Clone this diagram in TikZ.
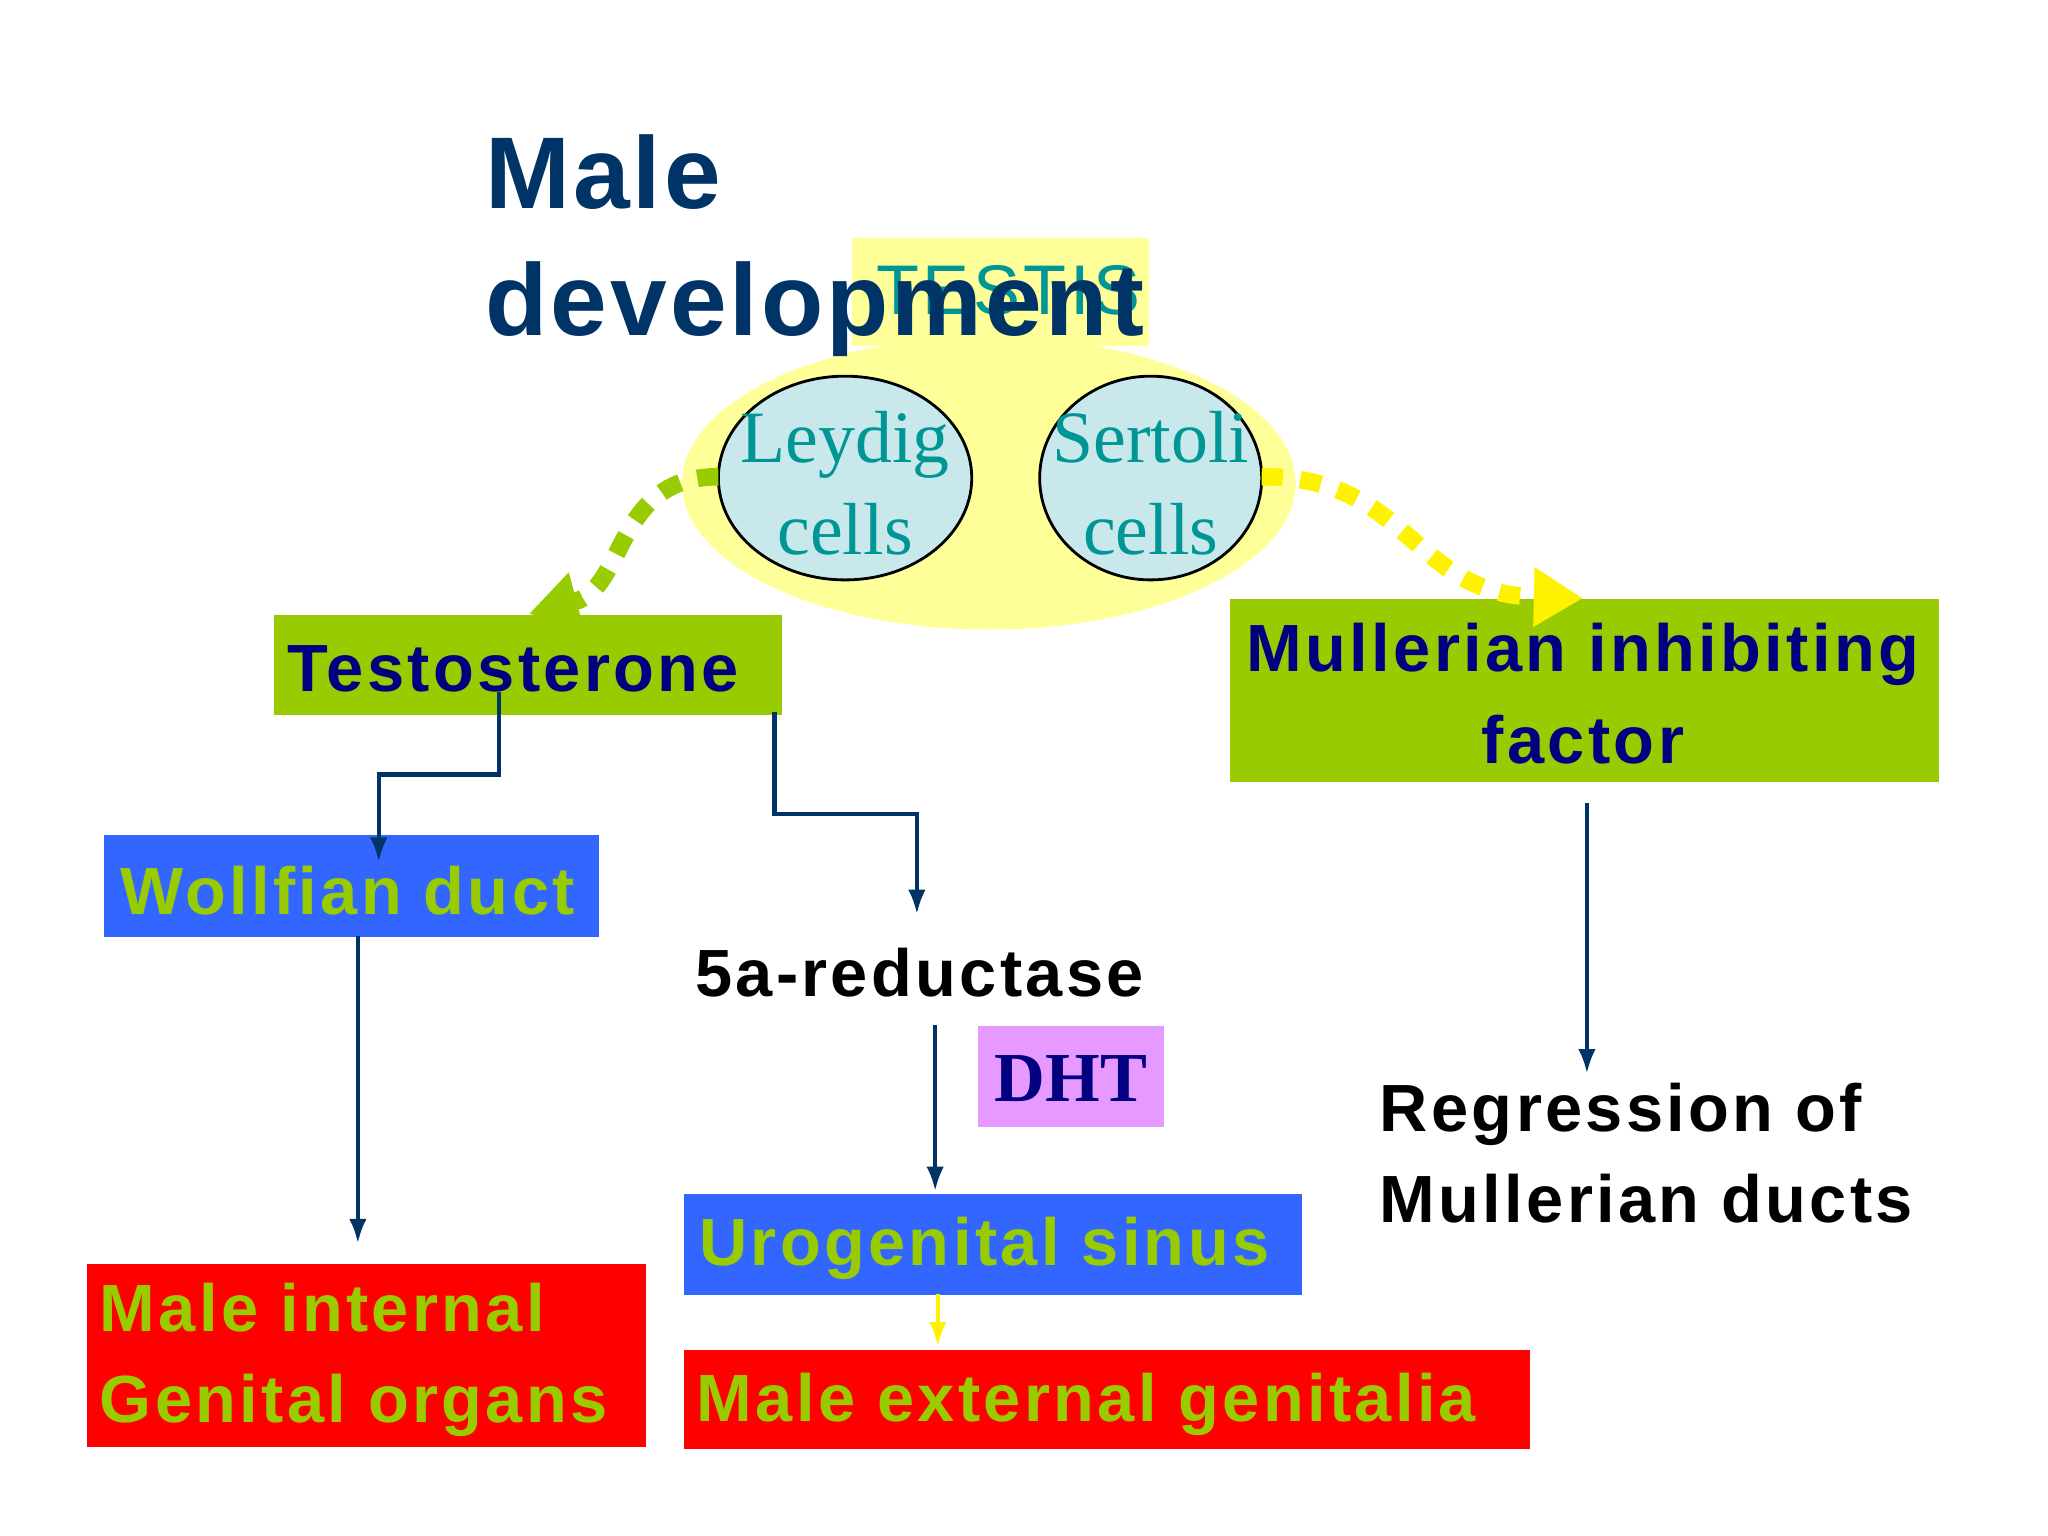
\documentclass[tikz,border=0pt]{standalone}
\usepackage{fontspec}
\setmainfont{Liberation Sans}
\newfontfamily\serif{Liberation Serif}
\newfontfamily\spaced[LetterSpace=5]{Liberation Sans}
\newfontfamily\tspaced[LetterSpace=3]{Liberation Sans}
\usetikzlibrary{arrows.meta}
\definecolor{ttl}{RGB}{0,51,102}
\definecolor{lyel}{RGB}{255,255,153}
\definecolor{teal2}{RGB}{0,150,150}
\definecolor{lblue}{RGB}{200,232,236}
\definecolor{grn}{RGB}{153,204,0}
\definecolor{navy}{RGB}{0,0,128}
\definecolor{blu}{RGB}{51,102,255}
\definecolor{pnk}{RGB}{230,153,255}
\definecolor{arr}{RGB}{0,51,102}
\begin{document}
\begin{tikzpicture}[x=0.01306cm,y=-0.01306cm,
 box/.style={draw=none,inner sep=0pt,anchor=north west},
 lbl/.style={font=\spaced\bfseries\fontsize{19}{26}\selectfont},
 con/.style={draw=arr,line width=1.2pt,-{Latex[length=7pt,width=5pt]}}]
\useasboundingbox (0,0) rectangle (1568,1176);
\fill[lyel] (652,182) rectangle (880,265);
\node[text=teal2,font=\spaced\fontsize{20}{24}\selectfont] (testis) at (772,222) {TESTIS};
\fill[lyel] (757,370) ellipse [x radius=235,y radius=112];
\draw[fill=lblue,line width=0.8pt] (647,366) ellipse [x radius=97,y radius=78];
\draw[fill=lblue,line width=0.8pt] (881,366) ellipse [x radius=85,y radius=78];
\node[text=teal2,font=\serif\fontsize{21}{26}\selectfont,align=center] (ley) at (647,370) {Leydig\\cells};
\node[text=teal2,font=\serif\fontsize{21}{26}\selectfont,align=center] (ser) at (881,370) {Sertoli\\cells};
\node[text=ttl,font=\tspaced\bfseries\fontsize{29}{36}\selectfont,align=left,anchor=west] (title) at (362,188) {Male\\development};
\coordinate (lL) at (550,365); \coordinate (sR) at (966,365);
\node[box,fill=grn,minimum width=389*0.01306cm,minimum height=77*0.01306cm] (tb) at (209,470) {};
\node[lbl,text=navy] (t) at (393,512) {Testosterone};
\node[box,fill=grn,minimum width=543*0.01306cm,minimum height=140*0.01306cm] (mb) at (941,458) {};
\node[lbl,text=navy,align=center] (m) at (1212,531) {Mullerian inhibiting\\factor};
\node[box,fill=blu,minimum width=379*0.01306cm,minimum height=78*0.01306cm] (wb) at (79,639) {};
\node[lbl,text=grn] (w) at (266,682) {Wollfian duct};
\node[lbl,text=black] (r5) at (704,745) {5a-reductase};
\node[box,fill=pnk,minimum width=143*0.01306cm,minimum height=77*0.01306cm] (db) at (748,785) {};
\node[text=navy,font=\serif\bfseries\fontsize{20}{26}\selectfont] (d) at (820,826) {DHT};
\node[box,fill=blu,minimum width=473*0.01306cm,minimum height=77*0.01306cm] (ub) at (523,914) {};
\node[lbl,text=grn,anchor=west] (u) at (526,956) {Urogenital sinus};
\node[box,fill=red,minimum width=648*0.01306cm,minimum height=76*0.01306cm] (eb) at (523,1033) {};
\node[lbl,text=grn,anchor=west] (e) at (524,1075) {Male external genitalia};
\node[box,fill=red,minimum width=428*0.01306cm,minimum height=140*0.01306cm] (ib) at (66,967) {};
\node[lbl,text=grn,anchor=west,align=left] (i) at (67,1041) {Male internal\\Genital organs};
\node[lbl,text=black,anchor=west,align=left] (rg) at (1047,883) {Regression of\\Mullerian ducts};
\coordinate (a1) at (382,530); \coordinate (a2) at (290,660);
\draw[con] (a1) |- (290,593) -- (a2);
\coordinate (b1) at (593,545); \coordinate (b2) at (702,700);
\draw[con] (b1) |- (702,623) -- (b2);
\coordinate (c1) at (274,717); \coordinate (c2) at (274,952);
\draw[con] (c1) -- (c2);
\coordinate (d1) at (716,785); \coordinate (d2) at (716,912);
\draw[con] (d1) -- (d2);
\coordinate (e1) at (718,991); \coordinate (e2) at (718,1031);
\draw[draw=yellow,line width=1.2pt,-{Latex[length=7pt,width=5pt]}] (e1) -- (e2);
\coordinate (f1) at (1215,615); \coordinate (f2) at (1215,822);
\draw[con] (f1) -- (f2);
\draw[draw=grn,line width=5pt,dash pattern=on 6pt off 5pt,-{Triangle[length=14pt,width=16pt]}] (lL) .. controls (470,365) and (480,450) .. (405,470);
\draw[draw=yellow,line width=5pt,dash pattern=on 6pt off 5pt,-{Triangle[length=14pt,width=16pt]}] (sR) .. controls (1080,365) and (1080,455) .. (1212,458);
\end{tikzpicture}
\end{document}
